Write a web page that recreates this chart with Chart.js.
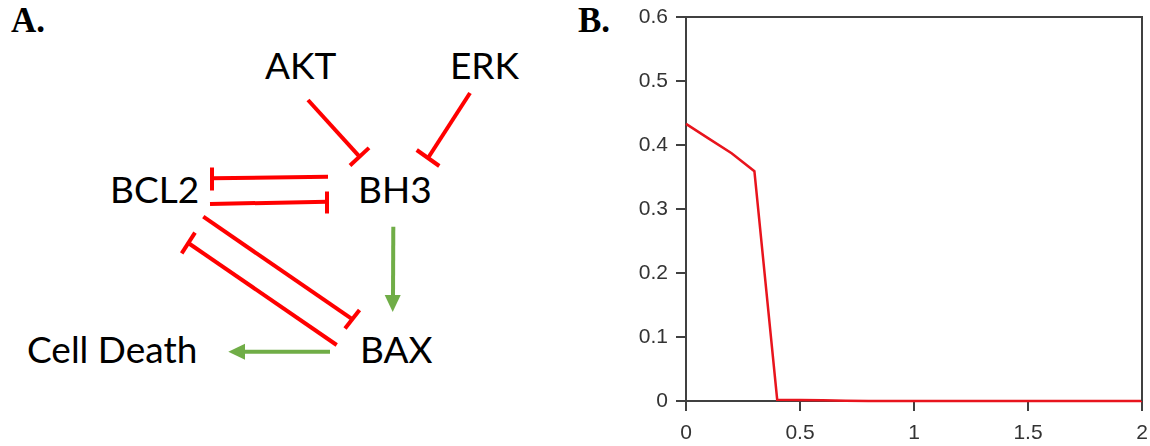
<!DOCTYPE html>
<html>
<head>
<meta charset="utf-8">
<script src="https://cdn.jsdelivr.net/npm/chart.js@4.4.1/dist/chart.umd.min.js"></script>
<style>
    html, body { margin: 0; padding: 0; background: #fff; }
    #page { position: relative; width: 1150px; height: 446px; overflow: hidden; }
    .panel-tag { position: absolute; font: bold 35px "Liberation Serif", "Times New Roman", serif; color: #000; }
    #diagram { position: absolute; left: 0; top: 0; }
    #diagram text { font-family: Lato, "Noto Sans", sans-serif; font-size: 37px; fill: #000; }
    #chart-box { position: absolute; left: 600px; top: 0; width: 550px; height: 446px; }
</style>
</head>
<body>
<div id="page">
    <div class="panel-tag" style="left:11px; top:1px;">A.</div>
    <div class="panel-tag" style="left:578px; top:1px;">B.</div>

    <!-- signalling network: red = inhibition, green = activation -->
    <svg id="diagram" width="580" height="446">
        <g stroke="#ff0000" stroke-width="4" fill="none">
            <!-- AKT -| BH3 -->
            <line x1="308" y1="100" x2="359.5" y2="156.7"/>
            <line x1="350" y1="165.5" x2="369" y2="147.9"/>
            <!-- ERK -| BH3 -->
            <line x1="470" y1="93" x2="428" y2="158"/>
            <line x1="416.7" y1="150" x2="439.3" y2="166"/>
            <!-- BH3 -| BCL2 -->
            <line x1="328" y1="176.7" x2="212" y2="178.3"/>
            <line x1="212" y1="167.5" x2="212" y2="190.5"/>
            <!-- BCL2 -| BH3 -->
            <line x1="210" y1="204" x2="327" y2="201.7"/>
            <line x1="327" y1="191.5" x2="327" y2="213.5"/>
            <!-- BCL2 -| BAX -->
            <line x1="203.3" y1="216.7" x2="352.2" y2="319.2"/>
            <line x1="345" y1="328.5" x2="359.5" y2="310"/>
            <!-- BAX -| BCL2 -->
            <line x1="336.7" y1="345" x2="188.3" y2="243"/>
            <line x1="181.7" y1="253.3" x2="195" y2="232.7"/>
        </g>
        <g stroke="#70ad47" stroke-width="4" fill="#70ad47">
            <!-- BH3 -> BAX -->
            <line x1="393.3" y1="226.7" x2="393" y2="298"/>
            <polygon stroke="none" points="392.7,312 384.7,295 400.7,295"/>
            <!-- BAX -> Cell Death -->
            <line x1="330" y1="351.7" x2="243" y2="351.7"/>
            <polygon stroke="none" points="228.3,351.7 245,343.7 245,359.7"/>
        </g>
        <text x="265" y="78.5">AKT</text>
        <text x="450" y="78.5">ERK</text>
        <text x="110" y="203">BCL2</text>
        <text x="358" y="203">BH3</text>
        <text x="27" y="363">Cell Death</text>
        <text x="360" y="363">BAX</text>
    </svg>

    <div id="chart-box"><canvas id="bax-chart" width="550" height="446"></canvas></div>
</div>

<script>
// dose values and steady-state response
const doses = [0, 0.1, 0.2, 0.3, 0.4, 0.5, 0.6, 0.7, 0.8, 0.9, 1.0,
               1.1, 1.2, 1.3, 1.4, 1.5, 1.6, 1.7, 1.8, 1.9, 2.0];
const response = [0.433, 0.410, 0.387, 0.359, 0.002, 0.0015, 0.001, 0.0005, 0, 0, 0,
                  0, 0, 0, 0, 0, 0, 0, 0, 0, 0];
const xTicks = [0, 0.5, 1, 1.5, 2];
const yTicks = [0, 0.1, 0.2, 0.3, 0.4, 0.5, 0.6];

var axisColor = '#404040';

// top and right edges of the box around the plot
var frame = {
    id: 'frame',
    afterDraw: function(chart) {
        var a = chart.chartArea;
        var c = chart.ctx;
        c.save();
        c.strokeStyle = axisColor;
        c.lineWidth = 2;
        c.beginPath();
        c.moveTo(a.left, a.top);
        c.lineTo(a.right, a.top);
        c.lineTo(a.right, a.bottom);
        c.stroke();
        c.restore();
    }
};

var ctx = document.getElementById('bax-chart').getContext('2d');
new Chart(ctx, {
    type: 'line',
    data: {
        datasets: [{
            data: doses.map(function(d, i) { return { x: d, y: response[i] }; }),
            borderColor: '#e8141d',
            borderWidth: 2.5,
            pointRadius: 0,
            tension: 0,
            clip: false
        }]
    },
    options: {
        responsive: false,
        animation: false,
        devicePixelRatio: 1,
        layout: { padding: { top: 17, right: 8, left: 0, bottom: 0 } },
        plugins: {
            legend: { display: false },
            tooltip: { enabled: false }
        },
        scales: {
            x: {
                type: 'linear',
                min: 0,
                max: 2,
                afterBuildTicks: function(scale) {
                    scale.ticks = xTicks.map(function(v) { return { value: v }; });
                },
                afterFit: function(scale) {
                    scale.height = 45;
                    scale.paddingLeft = 0;
                    scale.paddingRight = 0;
                },
                ticks: {
                    color: '#333',
                    padding: 10,
                    maxRotation: 0,
                    callback: function(value) { return String(value); },
                    font: { family: '"Liberation Sans", Arial, sans-serif', size: 21 }
                },
                grid: {
                    drawOnChartArea: false,
                    drawTicks: true,
                    tickLength: 10,
                    color: axisColor,
                    lineWidth: 2
                },
                border: { display: true, color: axisColor, width: 2 }
            },
            y: {
                min: 0,
                max: 0.6,
                afterBuildTicks: function(scale) {
                    scale.ticks = yTicks.map(function(v) { return { value: v }; });
                },
                afterFit: function(scale) {
                    scale.width = 86;
                    scale.paddingTop = 0;
                    scale.paddingBottom = 0;
                },
                ticks: {
                    color: '#333',
                    padding: 8,
                    font: { family: '"Liberation Sans", Arial, sans-serif', size: 21 }
                },
                grid: {
                    drawOnChartArea: false,
                    drawTicks: true,
                    tickLength: 10,
                    color: axisColor,
                    lineWidth: 2
                },
                border: { display: true, color: axisColor, width: 2 }
            }
        }
    },
    plugins: [frame]
});
</script>
</body>
</html>
